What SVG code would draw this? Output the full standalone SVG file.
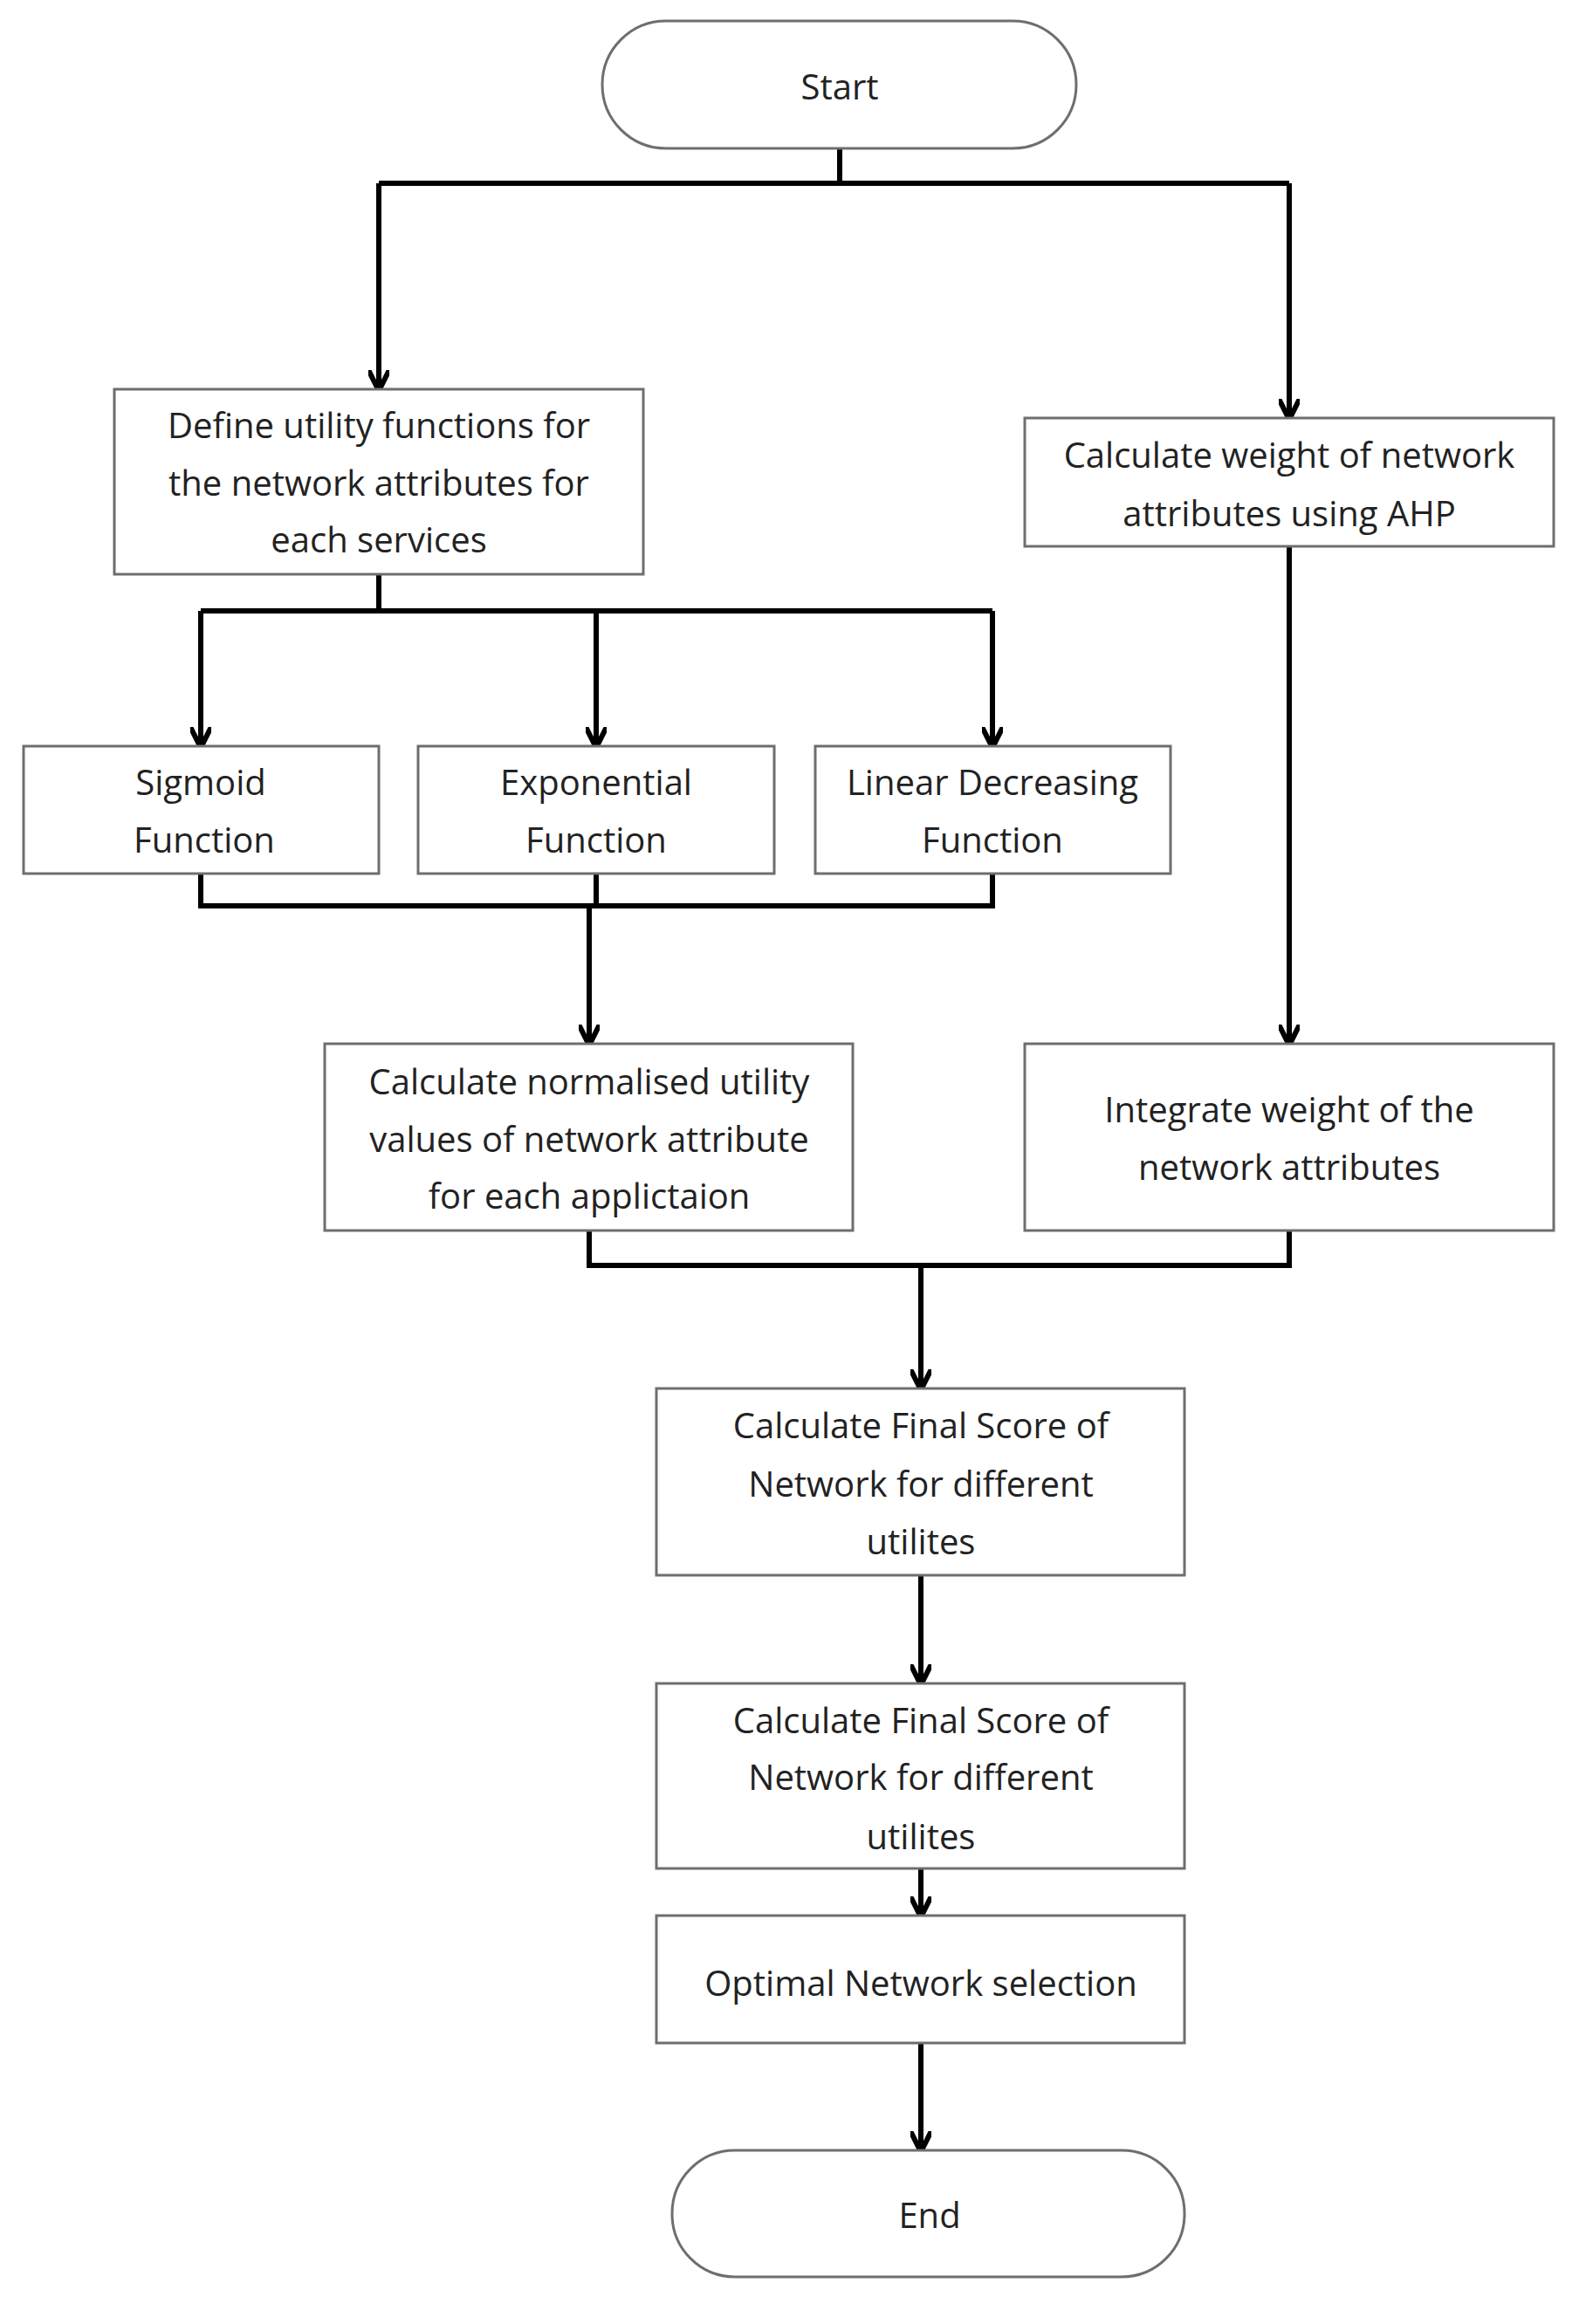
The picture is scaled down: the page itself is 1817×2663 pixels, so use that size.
<svg xmlns="http://www.w3.org/2000/svg" width="1817" height="2663" viewBox="0 0 1817 2663">
<style>
.b{fill:#fff;stroke:#6e6e6e;stroke-width:3}
.t{font-family:"Open Sans","Noto Sans",sans-serif;font-size:40px;fill:#222;text-anchor:middle;dominant-baseline:central}
.c{fill:none;stroke:#000;stroke-width:6}
</style>
<defs><marker id="a" viewBox="0 0 10 10" refX="8" refY="5" markerWidth="4" markerHeight="4" orient="auto"><path d="M0,0 L10,5 L0,10" fill="none" stroke="#000" stroke-width="2.5"/></marker></defs>
<rect width="1817" height="2663" fill="#fff"/>
<g id="connectors">
<path class="c" d="M962,170 V210 M434,210 H1477" />
<path class="c" d="M434,210 V443" marker-end="url(#a)"/>
<path class="c" d="M1477,210 V476" marker-end="url(#a)"/>
<path class="c" d="M434,658 V700 M230,700 H1137"/>
<path class="c" d="M230,700 V852" marker-end="url(#a)"/>
<path class="c" d="M683,700 V852" marker-end="url(#a)"/>
<path class="c" d="M1137,700 V852" marker-end="url(#a)"/>
<path class="c" d="M230,1001 V1038 H1137 V1001 M683,1001 V1038"/>
<path class="c" d="M675,1038 V1193" marker-end="url(#a)"/>
<path class="c" d="M1477,626 V1193" marker-end="url(#a)"/>
<path class="c" d="M675,1410 V1450 H1477 V1410"/>
<path class="c" d="M1055,1450 V1588" marker-end="url(#a)"/>
<path class="c" d="M1055,1805 V1926" marker-end="url(#a)"/>
<path class="c" d="M1055,2141 V2192" marker-end="url(#a)"/>
<path class="c" d="M1055,2341 V2461" marker-end="url(#a)"/>
</g>
<g id="start"><rect class="b" x="690" y="24" width="543" height="146" rx="73"/><text class="t" x="962" y="98">Start</text></g>
<g id="define"><rect class="b" x="131" y="446" width="606" height="212"/><text class="t" x="434" y="486">Define utility functions for</text><text class="t" x="434" y="552">the network attributes for</text><text class="t" x="434" y="617">each services</text></g>
<g id="weight"><rect class="b" x="1174" y="479" width="606" height="147"/><text class="t" x="1477" y="520">Calculate weight of network</text><text class="t" x="1477" y="587">attributes using AHP</text></g>
<g id="sigmoid"><rect class="b" x="27" y="855" width="407" height="146"/><text class="t" x="230" y="895">Sigmoid</text><text class="t" x="234" y="961">Function</text></g>
<g id="exponential"><rect class="b" x="479" y="855" width="408" height="146"/><text class="t" x="683" y="895">Exponential</text><text class="t" x="683" y="961">Function</text></g>
<g id="linear"><rect class="b" x="934" y="855" width="407" height="146"/><text class="t" x="1137" y="895">Linear Decreasing</text><text class="t" x="1137" y="961">Function</text></g>
<g id="normalised"><rect class="b" x="372" y="1196" width="605" height="214"/><text class="t" x="675" y="1238">Calculate normalised utility</text><text class="t" x="675" y="1304">values of network attribute</text><text class="t" x="675" y="1369">for each applictaion</text></g>
<g id="integrate"><rect class="b" x="1174" y="1196" width="606" height="214"/><text class="t" x="1477" y="1270">Integrate weight of the</text><text class="t" x="1477" y="1336">network attributes</text></g>
<g id="final1"><rect class="b" x="752" y="1591" width="605" height="214"/><text class="t" x="1055" y="1632">Calculate Final Score of</text><text class="t" x="1055" y="1699">Network for different</text><text class="t" x="1055" y="1765">utilites</text></g>
<g id="final2"><rect class="b" x="752" y="1929" width="605" height="212"/><text class="t" x="1055" y="1970">Calculate Final Score of</text><text class="t" x="1055" y="2035">Network for different</text><text class="t" x="1055" y="2103">utilites</text></g>
<g id="optimal"><rect class="b" x="752" y="2195" width="605" height="146"/><text class="t" x="1055" y="2271">Optimal Network selection</text></g>
<g id="end"><rect class="b" x="770" y="2464" width="587" height="145" rx="72"/><text class="t" x="1065" y="2537">End</text></g>
</svg>
